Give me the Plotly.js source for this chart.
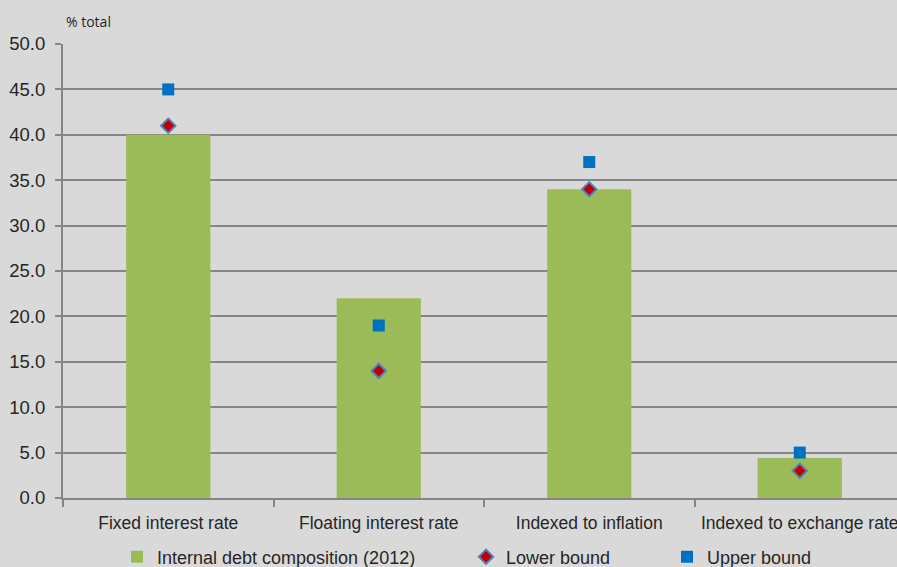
<!DOCTYPE html>
<html>
<head>
<meta charset="utf-8">
<script src="https://cdn.plot.ly/plotly-3.0.1.min.js"></script>
<style>
  html, body { margin: 0; padding: 0; background: #d9d9d9; }
  #chart { width: 897px; height: 567px; }
</style>
</head>
<body>
<div id="chart"></div>
<script>
// Internal debt composition by indexation type, with benchmark bounds
const categories = ["Fixed interest rate", "Floating interest rate", "Indexed to inflation", "Indexed to exchange rate"];
const composition2012 = [40.0, 22.0, 34.0, 4.4];
const lowerBound = [41.0, 14.0, 34.0, 3.0];
const upperBound = [45.0, 19.0, 37.0, 5.0];
const yTickValues = [0, 5, 10, 15, 20, 25, 30, 35, 40, 45, 50];
const yTickLabels = ["0.0", "5.0", "10.0", "15.0", "20.0", "25.0", "30.0", "35.0", "40.0", "45.0", "50.0"];

const textFont = "Liberation Sans, Arial, sans-serif";

const traces = [
  {
    type: "bar",
    name: "Internal debt composition (2012)",
    legend: "legend",
    x: categories,
    y: composition2012,
    width: 0.4,
    marker: { color: "#9bbb59" }
  },
  {
    type: "scatter",
    mode: "markers",
    name: "Lower bound",
    legend: "legend2",
    x: categories,
    y: lowerBound,
    marker: { symbol: "diamond", size: 11, color: "#c00000", line: { color: "#4f81bd", width: 2 } }
  },
  {
    type: "scatter",
    mode: "markers",
    name: "Upper bound",
    legend: "legend3",
    x: categories,
    y: upperBound,
    marker: { symbol: "square", size: 12, color: "#0070c0", line: { width: 0 } }
  }
];

// one small legend per series, placed along the bottom row of the figure
function legendAt(xPx) {
  return {
    orientation: "h",
    xref: "container", yref: "container",
    x: xPx / 897, xanchor: "left",
    y: 10 / 567, yanchor: "middle",
    bgcolor: "rgba(0,0,0,0)",
    font: { size: 18, family: textFont, color: "#262626" },
    itemwidth: 30
  };
}

const layout = {
  width: 897,
  height: 567,
  paper_bgcolor: "#d9d9d9",
  plot_bgcolor: "#d9d9d9",
  margin: { l: 63, r: 0, t: 44, b: 69, autoexpand: false },
  font: { family: textFont, color: "#262626" },
  showlegend: true,
  legend: legendAt(117),
  legend2: legendAt(466),
  legend3: legendAt(667),
  xaxis: {
    type: "category",
    range: [-0.5, 3.462],
    showgrid: false,
    tickson: "boundaries",
    ticks: "outside",
    ticklen: 7,
    tickwidth: 2,
    tickcolor: "#868686",
    ticklabelstandoff: 8,
    showline: true,
    linecolor: "#868686",
    linewidth: 2,
    tickfont: { size: 17.5, family: textFont, color: "#262626" },
    fixedrange: true
  },
  yaxis: {
    range: [0, 50],
    tickvals: yTickValues,
    ticktext: yTickLabels,
    showgrid: true,
    gridcolor: "#868686",
    gridwidth: 2,
    zeroline: false,
    showline: true,
    linecolor: "#868686",
    linewidth: 2,
    ticks: "outside",
    ticklen: 6,
    tickwidth: 2,
    tickcolor: "#868686",
    ticklabelstandoff: 6,
    tickfont: { size: 18.5, family: textFont, color: "#262626" },
    fixedrange: true
  },
  annotations: [
    {
      text: "% total",
      xref: "paper", yref: "paper",
      x: 0.001, y: 1.049,
      xanchor: "left", yanchor: "middle",
      showarrow: false,
      font: { size: 14, family: "Open Sans, sans-serif", color: "#262626" }
    }
  ]
};

Plotly.newPlot("chart", traces, layout, { displayModeBar: false, staticPlot: true });
</script>
</body>
</html>
